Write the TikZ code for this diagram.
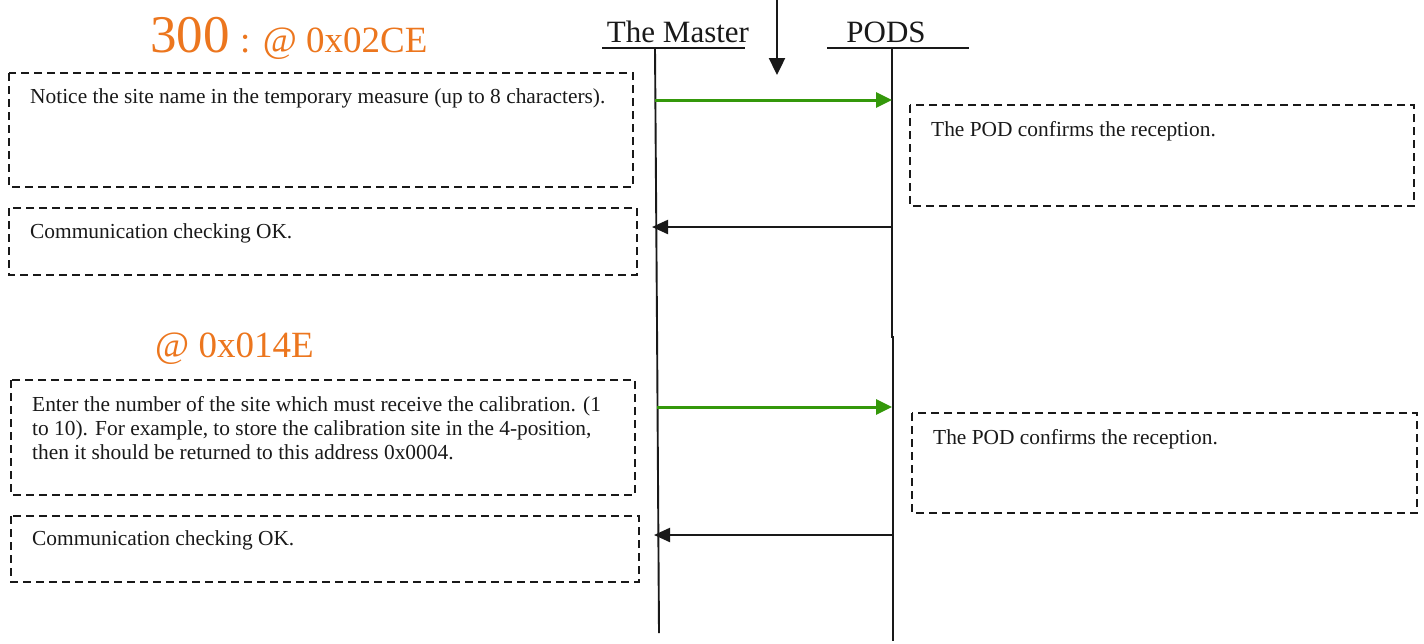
\documentclass[tikz,border=0pt]{standalone}
\usepackage{fontspec}
\setmainfont{Liberation Serif}
\usetikzlibrary{arrows.meta}
\definecolor{orangeT}{RGB}{236,118,30}
\definecolor{greenA}{RGB}{52,152,10}
\definecolor{lineK}{RGB}{25,25,25}
\tikzset{
  dbox/.style={draw=lineK, line width=1.5pt, dash pattern=on 8pt off 5pt},
  btxt/.style={anchor=west, inner sep=0pt, font=\fontsize{21.4}{24.2}\selectfont, text=lineK},
  head/.style={anchor=base, inner sep=0pt, font=\fontsize{31}{36}\selectfont, text=lineK},
  life/.style={draw=lineK, line width=1.9pt},
  hline/.style={draw=lineK, line width=1.8pt},
  garrow/.style={draw=greenA, line width=3pt, -{Triangle[length=16pt, width=15pt]}},
  karrow/.style={draw=lineK, line width=2.2pt, -{Triangle[length=16pt, width=14pt]}},
  otitle/.style={anchor=base west, inner sep=0pt, text=orangeT}
}
\begin{document}
\begin{tikzpicture}[x=1pt, y=-1pt]
\useasboundingbox (0,0) rectangle (1424,643);
% headers
\node[head] (master) at (678,42) {The Master};
\node[head] (pods) at (886,42) {PODS};
\coordinate (mu1) at (602,48);
\coordinate (mu2) at (745,48);
\coordinate (pu1) at (827,48);
\coordinate (pu2) at (969,48);
\draw[hline] (mu1) -- (mu2);
\draw[hline] (pu1) -- (pu2);
% down arrow
\coordinate (da1) at (777,0);
\coordinate (da2) at (777,75);
\draw[draw=lineK, line width=2.4pt, -{Triangle[length=17pt, width=16pt]}] (da1) -- (da2);
% lifelines
\coordinate (m1) at (655,48);
\coordinate (m2) at (657,325);
\coordinate (m3) at (659,633);
\coordinate (p1) at (892,48);
\coordinate (p2) at (892,337);
\coordinate (p2b) at (893,337);
\coordinate (p3) at (893,641);
\draw[life] (m1) -- (m2) -- (m3);
\draw[life] (p1) -- (p2) -- (p2b) -- (p3);
% titles
\node[otitle, font=\fontsize{53}{60}\selectfont] (t300) at (150,52) {300};
\node[otitle, font=\fontsize{37}{42}\selectfont, anchor=base west] (t300b) at (240,52) {: @ 0x02CE};
\node[otitle, font=\fontsize{37}{42}\selectfont] (t14e) at (155,357) {@ 0x014E};
% boxes
\draw[dbox] (9,73) rectangle (633,187);
\node[btxt] (n1) at (30,98) {Notice the site name in the temporary measure (up to 8 characters).};
\draw[dbox] (910,105) rectangle (1414,206);
\node[btxt] (n2) at (931,131) {The POD confirms the reception.};
\draw[dbox] (9,208) rectangle (637,275);
\node[btxt] (n3) at (30,233) {Communication checking OK.};
\draw[dbox] (11,380) rectangle (635,495);
\node[btxt, anchor=north west, align=left] (n4) at (32,396) {Enter the number of the site which must receive the calibration. (1\\to 10). For example, to store the calibration site in the 4-position,\\then it should be returned to this address 0x0004.};
\draw[dbox] (912,413) rectangle (1417,513);
\node[btxt] (n5) at (933,439) {The POD confirms the reception.};
\draw[dbox] (11,516) rectangle (639,582);
\node[btxt] (n6) at (32,540) {Communication checking OK.};
% messages
\coordinate (a1s) at (655,100);
\coordinate (a1e) at (892,100);
\draw[garrow] (a1s) -- (a1e);
\coordinate (a2s) at (892,227);
\coordinate (a2e) at (652,227);
\draw[karrow] (a2s) -- (a2e);
\coordinate (a3s) at (657,407);
\coordinate (a3e) at (892,407);
\draw[garrow] (a3s) -- (a3e);
\coordinate (a4s) at (893,535);
\coordinate (a4e) at (654,535);
\draw[karrow] (a4s) -- (a4e);
\end{tikzpicture}
\end{document}
